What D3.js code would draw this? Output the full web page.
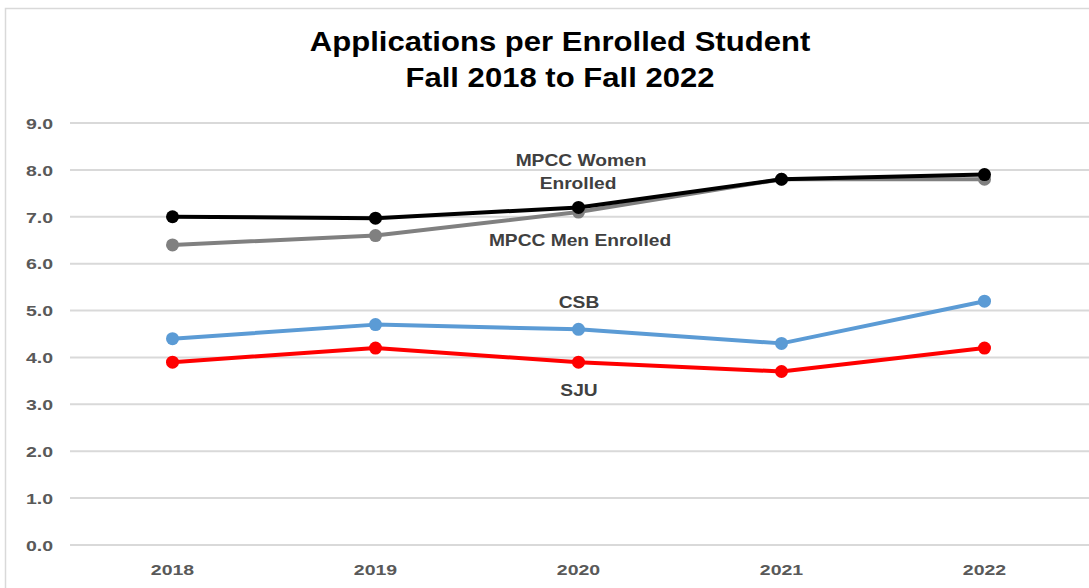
<!DOCTYPE html>
<html><head><meta charset="utf-8">
<script src="https://cdn.jsdelivr.net/npm/d3@7"></script>
<style>html,body{margin:0;padding:0;background:#fff;}svg{display:block;}</style>
</head><body>
<svg id="c" width="1089" height="588"></svg>
<script>
const years = ["2018","2019","2020","2021","2022"];
const women = [7.0, 6.97, 7.2, 7.8, 7.9];
const men = [6.4, 6.6, 7.1, 7.8, 7.8];
const csb = [4.4, 4.7, 4.6, 4.3, 5.2];
const sju = [3.9, 4.2, 3.9, 3.7, 4.2];
const yTicks = [0,1,2,3,4,5,6,7,8,9];
const titleLines = ["Applications per Enrolled Student", "Fall 2018 to Fall 2022"];

const series = [
  {name:"MPCC Men Enrolled", values: men, color:"#808080"},
  {name:"MPCC Women Enrolled", values: women, color:"#000000"},
  {name:"CSB", values: csb, color:"#5b9bd5"},
  {name:"SJU", values: sju, color:"#ff0000"}
];
const FONT = "Liberation Sans, Arial, sans-serif";

const svg = d3.select("#c");
// frame
svg.append("path").attr("d","M5.5,588 L5.5,8.5 L1089,8.5").attr("fill","none").attr("stroke","#d9d9d9").attr("stroke-width",1.5);

const x = d3.scaleBand().domain(years).range([71, 1086]);
const y = d3.scaleLinear().domain([0, 9]).range([545, 123]);

// gridlines
svg.append("g").selectAll("line").data(yTicks).join("line")
  .attr("x1", 70).attr("x2", 1089)
  .attr("y1", d => y(d)).attr("y2", d => y(d))
  .attr("stroke", "#d9d9d9").attr("stroke-width", 2);

// y axis labels
const yAxis = d3.axisLeft(y).tickValues(yTicks).tickFormat(d3.format(".1f")).tickSize(0).tickPadding(0);
const gy = svg.append("g").attr("transform","translate(53,0)").call(yAxis);
gy.select(".domain").remove();
gy.selectAll("text").attr("font-family",FONT).attr("font-weight","bold").attr("x",0)
  .attr("font-size", 15).attr("fill","#595959").attr("dy","0.35em").attr("transform","scale(1.3,1)");

// x axis labels
const xAxis = d3.axisBottom(x).tickSize(0).tickPadding(0);
const gx = svg.append("g").attr("transform","translate(0,575)").call(xAxis);
gx.select(".domain").remove();
gx.selectAll("text").attr("font-family",FONT).attr("font-weight","bold").attr("y",0)
  .attr("font-size", 15).attr("fill","#595959").attr("dy","0").attr("transform","scale(1.3,1)");

// title
svg.append("g").selectAll("text").data(titleLines).join("text")
  .attr("transform", (d,i) => `translate(560,${51 + i*36}) scale(1.13,1)`)
  .attr("text-anchor","middle").attr("font-family",FONT).attr("font-weight","bold")
  .attr("font-size", 27.5).attr("fill","#000").text(d => d);

// lines
const line = d3.line().x((d,i) => x(years[i]) + x.bandwidth()/2).y(d => y(d));
const gs = svg.append("g").selectAll("g").data(series).join("g");
gs.append("path").attr("d", d => line(d.values)).attr("fill","none")
  .attr("stroke", d => d.color).attr("stroke-width", 4).attr("stroke-linejoin","round");
gs.selectAll("circle").data(d => d.values.map((v,i)=>({v,i,color:d.color}))).join("circle")
  .attr("cx", d => x(years[d.i]) + x.bandwidth()/2).attr("cy", d => y(d.v)).attr("r", 6.5)
  .attr("fill", d => d.color);

// series labels
const labels = [
  {lines:["MPCC Women","Enrolled"], x:[581,578], y:[166,189]},
  {lines:["MPCC Men Enrolled"], x:[580], y:[246]},
  {lines:["CSB"], x:[579], y:[308]},
  {lines:["SJU"], x:[579], y:[396]}
];
const gl = svg.append("g").attr("font-family",FONT).attr("font-weight","bold")
  .attr("font-size", 16).attr("fill","#404040").attr("text-anchor","middle");
labels.forEach(l => l.lines.forEach((t,i) => gl.append("text")
  .attr("transform", `translate(${l.x[i]},${l.y[i]}) scale(1.2,1)`).text(t)));
</script>
</body></html>
